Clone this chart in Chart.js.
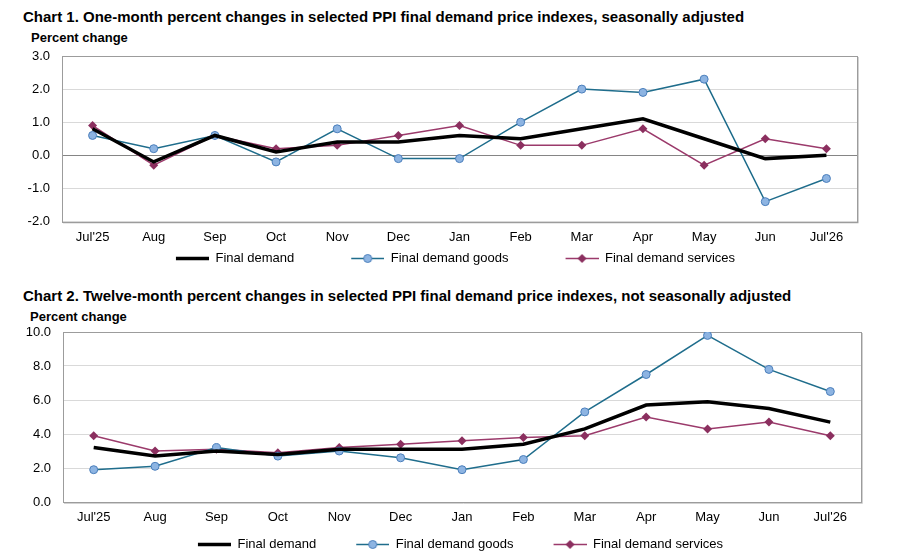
<!DOCTYPE html>
<html>
<head>
<meta charset="utf-8">
<script src="https://cdn.jsdelivr.net/npm/chart.js@4.4.1/dist/chart.umd.min.js"></script>
<style>
  html, body { margin: 0; padding: 0; background: #fff; width: 911px; height: 557px; overflow: hidden; }
  body { position: relative; font-family: "Liberation Sans", Arial, sans-serif; color: #000; }
  .title { position: absolute; font-weight: bold; font-size: 15px; white-space: nowrap; }
  .unit { position: absolute; font-weight: bold; font-size: 13px; white-space: nowrap; }
  canvas { position: absolute; left: 0; }
</style>
</head>
<body>
<div class="title" style="left:23px; top:8px;">Chart 1. One-month percent changes in selected PPI final demand price indexes, seasonally adjusted</div>
<div class="unit" style="left:31px; top:30px;">Percent change</div>
<canvas id="chart1" width="911" height="231" style="top:44px;"></canvas>

<div class="title" style="left:23px; top:287px;">Chart 2. Twelve-month percent changes in selected PPI final demand price indexes, not seasonally adjusted</div>
<div class="unit" style="left:30px; top:309px;">Percent change</div>
<canvas id="chart2" width="911" height="239" style="top:322px;"></canvas>

<script>
const categories = ["Jul'25", 'Aug', 'Sep', 'Oct', 'Nov', 'Dec', 'Jan', 'Feb', 'Mar', 'Apr', 'May', 'Jun', "Jul'26"];
const seriesNames = ['Final demand', 'Final demand goods', 'Final demand services'];

// Chart 1, one-month changes (seasonally adjusted)
const monthFinalDemand = [0.8, -0.2, 0.6, 0.1, 0.4, 0.4, 0.6, 0.5, 0.8, 1.1, 0.5, -0.1, 0.0];
const monthGoods = [0.6, 0.2, 0.6, -0.2, 0.8, -0.1, -0.1, 1.0, 2.0, 1.9, 2.3, -1.4, -0.7];
const monthServices = [0.9, -0.3, 0.6, 0.2, 0.3, 0.6, 0.9, 0.3, 0.3, 0.8, -0.3, 0.5, 0.2];
const monthTicks = [-2, -1, 0, 1, 2, 3];

// Chart 2, twelve-month changes (not seasonally adjusted)
const yearFinalDemand = [3.2, 2.7, 3.0, 2.8, 3.1, 3.1, 3.1, 3.4, 4.3, 5.7, 5.9, 5.5, 4.7];
const yearGoods = [1.9, 2.1, 3.2, 2.7, 3.0, 2.6, 1.9, 2.5, 5.3, 7.5, 9.8, 7.8, 6.5];
const yearServices = [3.9, 3.0, 3.1, 2.9, 3.2, 3.4, 3.6, 3.8, 3.9, 5.0, 4.3, 4.7, 3.9];
const yearTicks = [0, 2, 4, 6, 8, 10];

const FONT = '"Liberation Sans", Arial, sans-serif';
const goodsLine = '#1f6d8c';
const goodsFill = '#8db4e2';
const goodsEdge = '#4a7ebb';
const servLine = '#9b3a6b';
const servFill = '#8b2f5f';

// little legend pictures: blank gap on the left, then the line with its marker
const legendIcon = (kind, gap, len) => {
    const c = document.createElement('canvas');
    c.width = gap + len;
    c.height = 13;
    const ctx = c.getContext('2d');
    const y = 6.5;
    const mid = gap + len / 2;
    ctx.beginPath();
    ctx.moveTo(gap, y);
    ctx.lineTo(gap + len, y);
    if (kind === 0) {
        ctx.strokeStyle = '#000';
        ctx.lineWidth = 3.5;
        ctx.stroke();
    } else if (kind === 1) {
        ctx.strokeStyle = goodsLine;
        ctx.lineWidth = 1.5;
        ctx.stroke();
        ctx.beginPath();
        ctx.arc(mid, y, 4, 0, Math.PI * 2);
        ctx.fillStyle = goodsFill;
        ctx.fill();
        ctx.strokeStyle = goodsEdge;
        ctx.lineWidth = 1;
        ctx.stroke();
    } else {
        ctx.strokeStyle = servLine;
        ctx.lineWidth = 1.5;
        ctx.stroke();
        ctx.beginPath();
        ctx.moveTo(mid, y - 4.5);
        ctx.lineTo(mid + 4.5, y);
        ctx.lineTo(mid, y + 4.5);
        ctx.lineTo(mid - 4.5, y);
        ctx.closePath();
        ctx.fillStyle = servFill;
        ctx.fill();
    }
    return c;
};

const plotFrame = {
    id: 'plotFrame',
    beforeDatasetsDraw(chart) {
        const a = chart.chartArea;
        const ctx = chart.ctx;
        ctx.save();
        ctx.strokeStyle = '#d2d2d2';
        ctx.lineWidth = 1;
        ctx.beginPath();
        ctx.moveTo(a.right + 1.5, a.top + 1);
        ctx.lineTo(a.right + 1.5, a.bottom + 1.5);
        ctx.lineTo(a.left + 1, a.bottom + 1.5);
        ctx.stroke();
        ctx.strokeStyle = '#9c9c9c';
        ctx.strokeRect(Math.round(a.left) + 0.5, Math.round(a.top) + 0.5,
            Math.round(a.right - a.left), Math.round(a.bottom - a.top));
        ctx.restore();
    }
};

const makeChart = (id, values, ticks, o) => {
    const icons = [0, 1, 2].map(k => legendIcon(k, o.gap, 33));
    return new Chart(document.getElementById(id), {
        type: 'line',
        data: {
            labels: categories,
            datasets: [{
                label: seriesNames[0],
                data: values[0],
                borderColor: '#000',
                borderWidth: 3.5,
                pointRadius: 0,
                tension: 0
            }, {
                label: seriesNames[1],
                data: values[1],
                borderColor: goodsLine,
                borderWidth: 1.5,
                pointRadius: 4,
                pointBorderWidth: 1,
                pointBackgroundColor: goodsFill,
                pointBorderColor: goodsEdge,
                tension: 0
            }, {
                label: seriesNames[2],
                data: values[2],
                borderColor: servLine,
                borderWidth: 1.5,
                pointStyle: 'rectRot',
                pointRadius: 4.5,
                pointBorderWidth: 0,
                pointBackgroundColor: servFill,
                pointBorderColor: servFill,
                tension: 0
            }]
        },
        options: {
            responsive: false,
            animation: false,
            devicePixelRatio: 1,
            layout: {
                padding: { left: o.padLeft, right: o.padRight, top: o.padTop, bottom: 0 }
            },
            plugins: {
                title: { display: false },
                tooltip: { enabled: false },
                legend: {
                    position: 'bottom',
                    labels: {
                        usePointStyle: true,
                        pointStyleWidth: o.gap + 33,
                        padding: o.itemPad,
                        color: '#000',
                        font: { family: FONT, size: 13 },
                        generateLabels: (chart) => chart.data.datasets.map((ds, i) => ({
                            text: ds.label,
                            pointStyle: icons[i],
                            datasetIndex: i,
                            hidden: false,
                            lineWidth: 0,
                            fillStyle: 'transparent',
                            strokeStyle: 'transparent',
                            fontColor: '#000'
                        }))
                    }
                }
            },
            scales: {
                x: {
                    offset: true,
                    afterFit: (s) => { s.height = o.xHeight; },
                    border: { display: false },
                    grid: { display: false, drawTicks: false },
                    ticks: {
                        color: '#000',
                        padding: 8,
                        maxRotation: 0,
                        autoSkip: false,
                        font: { family: FONT, size: 13 }
                    }
                },
                y: {
                    min: ticks[0],
                    max: ticks[ticks.length - 1],
                    afterFit: (s) => {
                        s.width = o.yWidth;
                        s.paddingTop = 0;
                        s.paddingBottom = 0;
                    },
                    afterBuildTicks: (s) => { s.ticks = ticks.map(v => ({ value: v })); },
                    border: { display: false },
                    grid: {
                        drawTicks: false,
                        lineWidth: 1,
                        color: (c) => (c.tick && c.tick.value === 0 && o.zeroLine) ? '#858585' : '#d9d9d9'
                    },
                    ticks: {
                        color: '#000',
                        padding: 12,
                        font: { family: FONT, size: 13 },
                        callback: (v) => Number(v).toFixed(1)
                    }
                }
            }
        },
        plugins: [plotFrame]
    });
};

const chart1 = makeChart('chart1', [monthFinalDemand, monthGoods, monthServices], monthTicks, {
    padLeft: 0, padRight: 54, padTop: 12, yWidth: 62, xHeight: 27.5, gap: 54, itemPad: 3, zeroLine: true
});

const chart2 = makeChart('chart2', [yearFinalDemand, yearGoods, yearServices], yearTicks, {
    padLeft: 22, padRight: 50, padTop: 10, yWidth: 41, xHeight: 34, gap: 38, itemPad: 2, zeroLine: false
});
</script>
</body>
</html>
